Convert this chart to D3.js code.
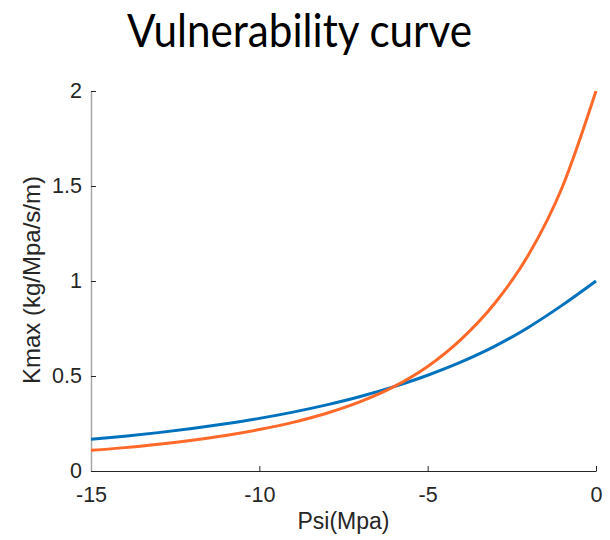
<!DOCTYPE html>
<html>
<head>
<meta charset="utf-8">
<script src="https://cdn.jsdelivr.net/npm/d3@7"></script>
<style>
  body { margin: 0; background: #fff; }
  svg { display: block; }
</style>
</head>
<body>
<svg width="610" height="540"></svg>
<script>
// Values
const psi = [-15, -14, -13, -12, -11, -10, -9, -8, -7, -6, -5, -4, -3, -2, -1, 0];
const kBlue = [0.167, 0.183, 0.202, 0.224, 0.249, 0.277, 0.31, 0.348, 0.392, 0.444, 0.504, 0.574, 0.657, 0.757, 0.873, 1.0];
const kOrange = [0.109, 0.123, 0.141, 0.162, 0.187, 0.218, 0.256, 0.304, 0.365, 0.444, 0.55, 0.694, 0.884, 1.139, 1.495, 2.0];

const xTicks = [-15, -10, -5, 0];
const xTickLabels = ["-15", "-10", "-5", "0"];
const yTicks = [0, 0.5, 1, 1.5, 2];
const yTickLabels = ["0", "0.5", "1", "1.5", "2"];

const svg = d3.select('svg');
const plotLeft = 91, plotRight = 596, plotTop = 91, plotBottom = 471;

let x = d3.scaleLinear().domain([-15, 0]).range([plotLeft, plotRight]);
let y = d3.scaleLinear().domain([0, 2]).range([plotBottom, plotTop]);

// title
svg.append('text')
  .attr('x', 299.5)
  .attr('y', 47)
  .attr('text-anchor', 'middle')
  .attr('font-family', 'Lato, "Open Sans", sans-serif')
  .attr('font-size', 46)
  .attr('textLength', 345)
  .attr('lengthAdjust', 'spacingAndGlyphs')
  .attr('fill', '#000')
  .text('Vulnerability curve');

// axes
const xAxis = d3.axisBottom(x)
  .tickValues(xTicks)
  .tickFormat((d, i) => xTickLabels[i])
  .tickSizeInner(-5)
  .tickSizeOuter(0)
  .tickPadding(16);
const yAxis = d3.axisLeft(y)
  .tickValues(yTicks)
  .tickFormat((d, i) => yTickLabels[i])
  .tickSizeInner(-5)
  .tickSizeOuter(0)
  .tickPadding(9);

const gx = svg.append('g')
  .attr('transform', `translate(0,${plotBottom})`)
  .call(xAxis);
const gy = svg.append('g')
  .attr('transform', `translate(${plotLeft},0)`)
  .call(yAxis);

[gx, gy].forEach(g => {
  g.selectAll('text')
    .attr('font-family', '"Liberation Sans", Arial, sans-serif')
    .attr('font-size', 21.5)
    .attr('fill', '#262626');
  g.selectAll('.tick line').attr('stroke', '#262626');
});
gx.select('.domain').attr('stroke', '#262626').attr('stroke-width', 1.2);
gy.select('.domain').attr('stroke', '#a6a6a6').attr('stroke-width', 1.5);

// axis labels
svg.append('text')
  .attr('x', (plotLeft + plotRight) / 2)
  .attr('y', 529)
  .attr('text-anchor', 'middle')
  .attr('font-family', '"Liberation Sans", Arial, sans-serif')
  .attr('font-size', 23)
  .attr('fill', '#262626')
  .text('Psi(Mpa)');

svg.append('text')
  .attr('transform', `translate(40,280) rotate(-90)`)
  .attr('text-anchor', 'middle')
  .attr('font-family', '"Liberation Sans", Arial, sans-serif')
  .attr('font-size', 24)
  .attr('fill', '#262626')
  .text('Kmax (kg/Mpa/s/m)');

// curves
const series = [
  { values: kBlue, color: '#0072BD' },
  { values: kOrange, color: '#FF6929' },
];
let line = d3.line()
  .x((d) => x(d[0]))
  .y((d) => y(d[1]))
  .curve(d3.curveMonotoneX);

series.forEach((s) => {
  svg.append('path')
    .datum(psi.map((p, i) => [p, s.values[i]]))
    .attr('d', line)
    .attr('fill', 'none')
    .attr('stroke', s.color)
    .attr('stroke-width', 3);
});
</script>
</body>
</html>
